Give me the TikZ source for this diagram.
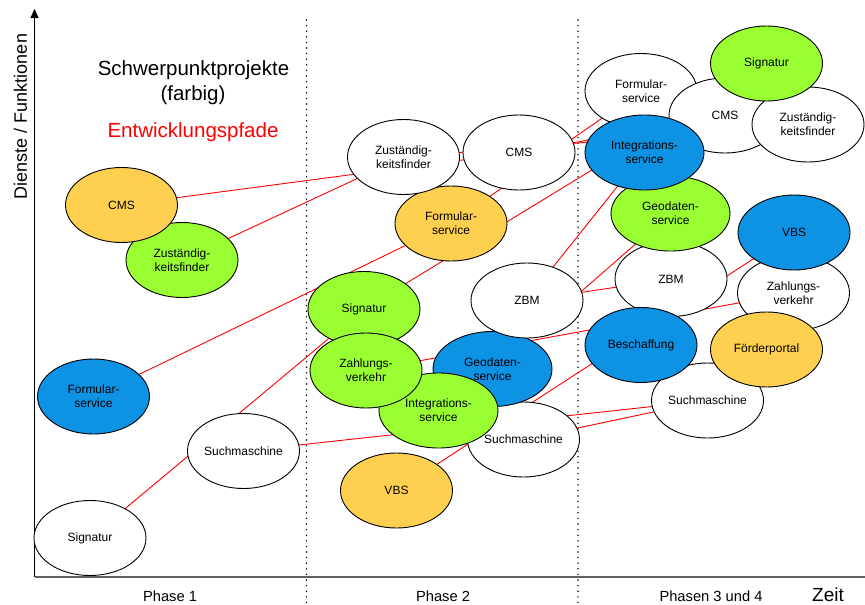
\documentclass[tikz,border=0pt]{standalone}
\usepackage{fontspec}
\setmainfont{Liberation Sans}
\usetikzlibrary{shapes.geometric,arrows.meta}
\pgfdeclarelayer{bg}
\pgfsetlayers{bg,main}
\definecolor{ora}{RGB}{255,208,80}
\definecolor{grn}{RGB}{153,255,51}
\definecolor{blu}{RGB}{14,146,228}
\definecolor{axisgray}{RGB}{96,96,96}
\begin{document}
\begin{tikzpicture}[x=1pt,y=-1pt,
  ell/.style={ellipse, draw=black, line width=0.9pt, inner sep=0pt,
    minimum width=112pt, minimum height=75pt, align=center,
    font=\fontsize{12}{14}\selectfont},
  wideell/.style={minimum width=119pt},
  devline/.style={draw=red, line width=0.9pt},
  phasediv/.style={draw=black, line width=1.6pt, line cap=round, dash pattern=on 0pt off 5.6pt},
  bigtxt/.style={font=\fontsize{20.5}{24}\selectfont, anchor=base},
  phasetxt/.style={font=\fontsize{14.7}{17}\selectfont, anchor=base}
]
\useasboundingbox (0,0) rectangle (865,605);

% axes
\coordinate (origin) at (34.5,577);
\coordinate (ytop) at (34.5,9);
\coordinate (xend) at (865,577);
\draw[line width=1pt, -{Triangle[length=9pt,width=8pt]}] (origin) -- (ytop);
\draw[line width=1.2pt, draw=axisgray] (origin) -- (xend);

% phase separators
\coordinate (d1t) at (306.5,20);
\coordinate (d1b) at (306.5,605);
\coordinate (d2t) at (578,20);
\coordinate (d2b) at (578,605);

% Phase 1
\node[ell, fill=grn] (zust1) at (182,260) {Zuständig-\\keitsfinder};
\node[ell, fill=ora] (cms1) at (121.5,205) {CMS};
\node[ell, fill=blu] (form1) at (93.5,396.5) {Formular-\\service};
\node[ell, fill=white] (such1) at (243.5,451) {Suchmaschine};
\node[ell, fill=white] (sig1) at (90,538) {Signatur};

% Phase 2
\node[ell, fill=ora] (form2) at (451,223.5) {Formular-\\service};
\node[ell, fill=white] (zust2) at (403.5,157) {Zuständig-\\keitsfinder};
\node[ell, fill=white] (cms2) at (519,152.5) {CMS};
\node[ell, fill=grn] (sig2) at (364,309) {Signatur};
\node[ell, fill=white] (such2) at (523.5,439.5) {Suchmaschine};
\node[ell, wideell, fill=blu] (geo2) at (492.5,369) {Geodaten-\\service};
\node[ell, fill=white] (zbm2) at (527,300.5) {ZBM};
\node[ell, wideell, fill=grn] (int2) at (438.5,410.5) {Integrations-\\service};
\node[ell, fill=grn] (zahl2) at (366,370.5) {Zahlungs-\\verkehr};
\node[ell, fill=ora] (vbs2) at (396.5,490.5) {VBS};

% Phase 3 und 4
\node[ell, fill=white] (form3) at (641,91) {Formular-\\service};
\node[ell, fill=white] (cms3) at (725,115.5) {CMS};
\node[ell, fill=white] (zust3) at (808,124.5) {Zuständig-\\keitsfinder};
\node[ell, fill=grn] (sig3) at (766.5,63.5) {Signatur};
\node[ell, fill=white] (zbm3) at (671,279) {ZBM};
\node[ell, wideell, fill=grn] (geo3) at (670.5,213.5) {Geodaten-\\service};
\node[ell, wideell, fill=blu] (int3) at (644.5,152.5) {Integrations-\\service};
\node[ell, fill=white] (zahl3) at (793.5,293) {Zahlungs-\\verkehr};
\node[ell, fill=blu] (vbs3) at (794,232.5) {VBS};
\node[ell, fill=white] (such3) at (707.5,400.5) {Suchmaschine};
\node[ell, fill=blu] (besch3) at (641,345) {Beschaffung};
\node[ell, fill=ora] (foerd3) at (766.5,349.5) {Förderportal};

% background: separators and development paths
\begin{pgfonlayer}{bg}
\draw[phasediv] (d1t) -- (d1b);
\draw[phasediv] (d2t) -- (d2b);
\draw[devline] (cms1.center) -- (cms2.center);
\draw[devline] (zust1.center) -- (zust2.center);
\draw[devline] (form1.center) -- (form2.center);
\draw[devline] (sig1.center) -- (sig2.center);
\draw[devline] (such1.center) -- (such3.center);
\draw[devline] (cms2.center) -- (cms3.center);
\draw[devline] (zust2.center) -- (zust3.center);
\draw[devline] (form2.center) -- (form3.center);
\draw[devline] (sig2.center) -- (sig3.center);
\draw[devline] (int2.center) -- (int3.center);
\draw[devline] (geo2.center) -- (geo3.center);
\draw[devline] (zbm2.center) -- (zbm3.center);
\draw[devline] (zahl2.center) -- (zahl3.center);
\draw[devline] (such2.center) -- (such3.center);
\draw[devline] (vbs2.center) -- (vbs3.center);
\end{pgfonlayer}

% texts
\node[bigtxt] (title1) at (193.5,75.5) {Schwerpunktprojekte};
\node[bigtxt] (title2) at (193,100) {(farbig)};
\node[bigtxt, text=red] (legend) at (193,137) {Entwicklungspfade};
\node[font=\fontsize{18}{20}\selectfont, rotate=90] (ylab) at (20.5,116.5) {Dienste / Funktionen};
\node[phasetxt] (ph1) at (170,601.5) {Phase 1};
\node[phasetxt] (ph2) at (443,601.5) {Phase 2};
\node[phasetxt] (ph3) at (711,601.5) {Phasen 3 und 4};
\node[font=\fontsize{19}{21}\selectfont, anchor=base] (zeit) at (828,601) {Zeit};
\end{tikzpicture}
\end{document}
